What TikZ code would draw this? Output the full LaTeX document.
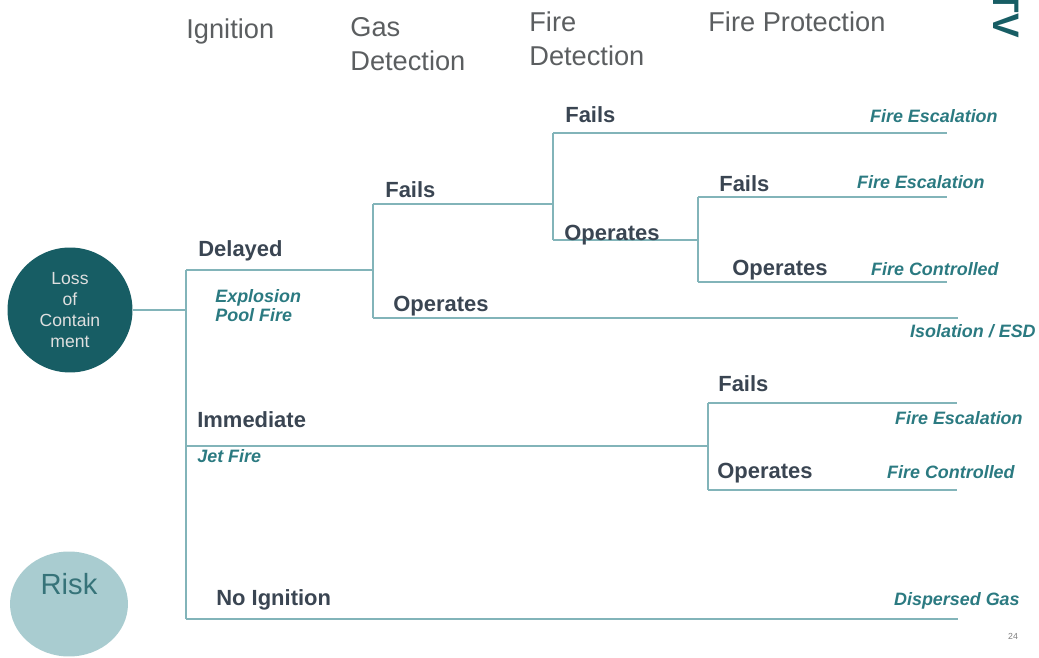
\documentclass[tikz,border=0pt]{standalone}
\usepackage{fontspec}
\setmainfont{Liberation Sans}
\usetikzlibrary{positioning,shapes.geometric}
\definecolor{lossfill}{HTML}{175D64}
\definecolor{riskfill}{HTML}{A9CCD0}
\definecolor{riskcol}{HTML}{367379}
\definecolor{linecol}{HTML}{82B4B9}
\definecolor{lblcol}{HTML}{3A4552}
\definecolor{rescol}{HTML}{2B7A81}
\definecolor{headcol}{HTML}{5B5E60}
\begin{document}
\begin{tikzpicture}[x=0.02cm,y=-0.02cm,
    branch/.style={draw=linecol,line width=1.1pt},
    head/.style={anchor=north west,inner sep=0pt,align=left,text=headcol,font=\fontsize{15.5}{19.3}\selectfont},
    lbl/.style={anchor=base west,inner sep=0pt,text=lblcol,font=\bfseries\fontsize{12.5}{15}\selectfont},
    res/.style={anchor=base east,inner sep=0pt,text=rescol,font=\bfseries\itshape\fontsize{10.2}{11.3}\selectfont}]
\useasboundingbox (0,0) rectangle (1039,658);
                % headings
                \node[head] (hign) at (186,18) {Ignition};
                \node[head] (hgas) at (350,17.5) {Gas\\Detection};
                \node[head] (hfire) at (529,11.5) {Fire\\Detection};
                \node[head] (hprot) at (708,11.5) {Fire Protection};
                \node[rotate=-90,anchor=base east,inner sep=0pt,text=lossfill,font=\bfseries\fontsize{21}{21}\selectfont] (logo) at (993,38) {TV};
                % start and risk
                \node[circle,fill=lossfill,minimum size=2.5cm,align=center,text=gray!25,font=\fontsize{10}{11.9}\selectfont] (loss) at (70,310) {Loss\\of\\Contain\\ment};
                \node[ellipse,fill=riskfill,minimum width=2.36cm,minimum height=2.1cm] (risk) at (69,604) {};
                \node[anchor=base,inner sep=0pt,text=riskcol,font=\fontsize{16.6}{18}\selectfont] (risktxt) at (69,595) {Risk};
                % branch points
                \coordinate (t0) at (186,310);
                \coordinate (t1) at (186,270);
                \coordinate (t2) at (186,446);
                \coordinate (t3) at (186,619);
                \coordinate (g0) at (373,270);
                \coordinate (g1) at (373,204);
                \coordinate (g2) at (373,318);
                \coordinate (f0) at (553,204);
                \coordinate (f1) at (553,133);
                \coordinate (f2) at (553,240);
                \coordinate (p0) at (698,240);
                \coordinate (p1) at (698,197);
                \coordinate (p2) at (698,282);
                \coordinate (i0) at (708,446);
                \coordinate (i1) at (708,403);
                \coordinate (i2) at (708,490);
                \coordinate (e1) at (947,133);
                \coordinate (e2) at (947,197);
                \coordinate (e3) at (947,282);
                \coordinate (e4) at (958,318);
                \coordinate (e5) at (957,403);
                \coordinate (e6) at (957,490);
                \coordinate (e7) at (958,619);
                \draw[branch] (loss) -- (t0);
                \draw[branch] (t1) -- (t3);
                \draw[branch] (t1) -- (g0) (t2) -- (i0) (t3) -- (e7);
                \draw[branch] (g1) -- (g2) (g1) -- (f0) (g2) -- (e4);
                \draw[branch] (f1) -- (f2) (f1) -- (e1) (f2) -- (p0);
                \draw[branch] (p1) -- (p2) (p1) -- (e2) (p2) -- (e3);
                \draw[branch] (i1) -- (i2) (i1) -- (e5) (i2) -- (e6);
                % branch labels
                \node[lbl] (delayed) at (198,257) {Delayed};
                \node[lbl] (immed) at (197,428) {Immediate};
                \node[lbl] (noign) at (216,606) {No Ignition};
                \node[lbl] (gfail) at (385,198) {Fails};
                \node[lbl] (gop) at (393,312) {Operates};
                \node[lbl] (ffail) at (565,123) {Fails};
                \node[lbl] (fop) at (564,241) {Operates};
                \node[lbl] (pfail) at (719,192) {Fails};
                \node[lbl] (pop) at (732,276) {Operates};
                \node[lbl] (jfail) at (718,392) {Fails};
                \node[lbl] (jop) at (717,479) {Operates};
                % outcomes
                \node[res,anchor=base west,align=left] (expl) at (215,322) {Explosion\\Pool Fire};
                \node[res,anchor=base west] (jet) at (197,463) {Jet Fire};
                \node[res] (o1) at (998,123) {Fire Escalation};
                \node[res] (o2) at (985,189) {Fire Escalation};
                \node[res] (o3) at (999,276) {Fire Controlled};
                \node[res] (o4) at (1036,338) {Isolation / ESD};
                \node[res] (o5) at (1023,425) {Fire Escalation};
                \node[res] (o6) at (1015,479) {Fire Controlled};
                \node[res] (o7) at (1020,606) {Dispersed Gas};
                \node[anchor=base,inner sep=0pt,text=gray,font=\fontsize{5}{6}\selectfont] (page) at (1013,640) {24};
            \end{tikzpicture}
\end{document}
